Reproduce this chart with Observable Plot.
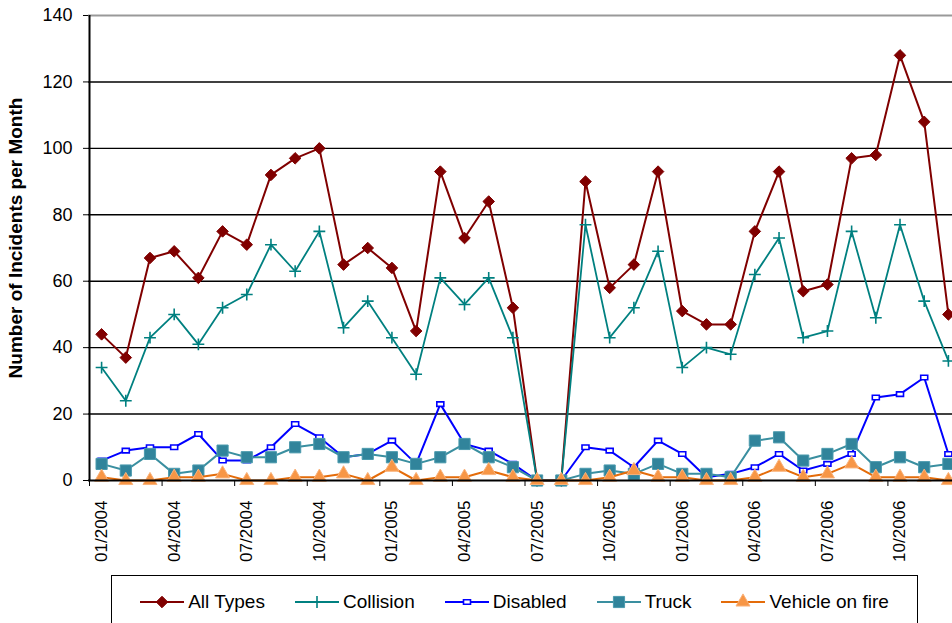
<!DOCTYPE html>
<html>
<head>
<meta charset="utf-8">
<script src="https://cdn.jsdelivr.net/npm/d3@7"></script>
<script src="https://cdn.jsdelivr.net/npm/@observablehq/plot@0.6"></script>
<style>
  html, body { margin: 0; padding: 0; background: #fff; overflow: hidden; }
  #wrap { position: relative; width: 952px; height: 623px; overflow: hidden; font-family: "Liberation Sans", Arial, sans-serif; }
  #wrap svg.plot { overflow: hidden; max-width: none; }
  #legend { position: absolute; left: 111px; top: 575px; width: 807px; height: 70px; border: 1px solid #000; box-sizing: border-box; background: #fff; }
  #legend .row { position: absolute; top: 15px; left: 0; right: 0; display: flex; justify-content: center; align-items: center; gap: 30px; font-size: 19px; color: #000; }
  #legend .item { display: flex; align-items: center; gap: 4px; }
  #legend svg { display: block; }
</style>
</head>
<body>
<div id="wrap"><div id="chart"></div><div id="legend"><div class="row"></div></div></div>
<script>
const months = ["01/2004","02/2004","03/2004","04/2004","05/2004","06/2004","07/2004","08/2004","09/2004","10/2004","11/2004","12/2004",
                "01/2005","02/2005","03/2005","04/2005","05/2005","06/2005","07/2005","08/2005","09/2005","10/2005","11/2005","12/2005",
                "01/2006","02/2006","03/2006","04/2006","05/2006","06/2006","07/2006","08/2006","09/2006","10/2006","11/2006","12/2006"];
const tickLabels = ["01/2004","04/2004","07/2004","10/2004","01/2005","04/2005","07/2005","10/2005","01/2006","04/2006","07/2006","10/2006"];
const yTicks = [0, 20, 40, 60, 80, 100, 120, 140];
const allTypes = [44,37,67,69,61,75,71,92,97,100,65,70,64,45,93,73,84,52,0,0,90,58,65,93,51,47,47,75,93,57,59,97,98,128,108,50];
const collision = [34,24,43,50,41,52,56,71,63,75,46,54,43,32,61,53,61,43,0,0,77,43,52,69,34,40,38,62,73,43,45,75,49,77,54,36];
const disabled = [6,9,10,10,14,6,6,10,17,13,7,8,12,5,23,11,9,5,0,0,10,9,4,12,8,1,2,4,8,3,5,8,25,26,31,8];
const truck = [5,3,8,2,3,9,7,7,10,11,7,8,7,5,7,11,7,4,0,0,2,3,2,5,2,2,1,12,13,6,8,11,4,7,4,5];
const vehicleOnFire = [1,0,0,1,1,2,0,0,1,1,2,0,4,0,1,1,3,1,0,0,0,1,3,1,1,0,0,1,4,1,2,5,1,1,1,0];
const seriesNames = ["All Types","Collision","Disabled","Truck","Vehicle on fire"];
const seriesValues = [allTypes, collision, disabled, truck, vehicleOnFire];

// custom small rectangle marker for "Disabled"
const dashSymbol = { draw(ctx, size) { const w = 7, h = 4.5; ctx.rect(-w/2, -h/2, w, h); } };

const styles = {
  "All Types":       { line: "#800000", lw: 2,   symbol: "diamond2", r: 5.2, fill: "#800000", stroke: "#800000", sw: 1 },
  "Collision":       { line: "#008080", lw: 1.8, symbol: "plus",     r: 3.9, fill: "none",    stroke: "#008080", sw: 1.6 },
  "Disabled":        { line: "#0000ff", lw: 2,   symbol: dashSymbol, r: 3,   fill: "#ffffff", stroke: "#0000ff", sw: 1.6 },
  "Truck":           { line: "#3a8fa0", lw: 2,   symbol: "square",   r: 6.3, fill: "#31849b", stroke: "#4a9aad", sw: 1 },
  "Vehicle on fire": { line: "#e46c0a", lw: 2,   symbol: "triangle", r: 5.2, fill: "#f79646", stroke: "#fab27a", sw: 1 }
};

const data = seriesNames.flatMap((name, s) => seriesValues[s].map((v, i) => ({ series: name, i, value: v })));

const boundaries = d3.range(-0.5, 36, 3);
const labelIdx = tickLabels.map(t => months.indexOf(t));

const marks = [
  Plot.gridY({ ticks: yTicks.filter(t => t > 0 && t < 140), stroke: "#000", strokeOpacity: 1, strokeWidth: 1.4 }),
  Plot.ruleY([140], { stroke: "#999", strokeWidth: 2 }),
  Plot.axisY({ ticks: yTicks, tickSize: 5, tickPadding: 11, fontSize: 18, label: null, stroke: "#000" }),
  Plot.axisX({ ticks: boundaries, tickSize: 6, tickFormat: () => "", label: null }),
  Plot.axisX({ ticks: labelIdx, tickSize: 0, tickPadding: 20, tickRotate: -90, fontSize: 17, tickFormat: i => months[i], label: null }),
  Plot.text(["Number of Incidents per Month"], { frameAnchor: "left", textAnchor: "middle", rotate: -90, dx: -80, dy: -10, lineAnchor: "top", fontSize: 19, fontWeight: "bold" })
];
for (const name of seriesNames) {
  const st = styles[name];
  const sub = data.filter(d => d.series === name);
  marks.push(Plot.line(sub, { x: "i", y: "value", stroke: st.line, strokeWidth: st.lw }));
  marks.push(Plot.dot(sub, { x: "i", y: "value", symbol: () => st.symbol, r: st.r, fill: st.fill, stroke: st.stroke, strokeWidth: st.sw }));
}
marks.push(Plot.ruleX([-0.5], { stroke: "#000", strokeWidth: 2 }));
marks.push(Plot.ruleY([0], { stroke: "#000", strokeWidth: 2 }));

const chart = Plot.plot({
  width: 952,
  height: 575,
  marginTop: 15,
  marginBottom: 95,
  marginLeft: 88,
  marginRight: 0,
  style: { fontFamily: "'Liberation Sans', Arial, sans-serif", color: "#000", background: "#fff", overflow: "hidden" },
  x: { type: "linear", domain: [-0.5, 35.5], range: [89, 960] },
  y: { domain: [0, 140] },
  symbol: { type: "identity" },
  marks
});
document.getElementById("chart").appendChild(chart);

// Legend
const row = d3.select("#legend .row");
for (const name of seriesNames) {
  const st = styles[name];
  const item = row.append("div").attr("class", "item");
  const svg = item.append("svg").attr("width", 44).attr("height", 20);
  svg.append("line").attr("x1", 0).attr("x2", 44).attr("y1", 10).attr("y2", 10).attr("stroke", st.line).attr("stroke-width", st.lw);
  const sym = typeof st.symbol === "string"
    ? { diamond2: d3.symbolDiamond2, plus: d3.symbolPlus, square: d3.symbolSquare, triangle: d3.symbolTriangle }[st.symbol]
    : st.symbol;
  svg.append("path").attr("transform", "translate(22,10)")
    .attr("d", d3.symbol(sym, Math.PI * st.r * st.r)())
    .attr("fill", st.fill).attr("stroke", st.stroke).attr("stroke-width", st.sw);
  item.append("span").text(name);
}
</script>
</body>
</html>
